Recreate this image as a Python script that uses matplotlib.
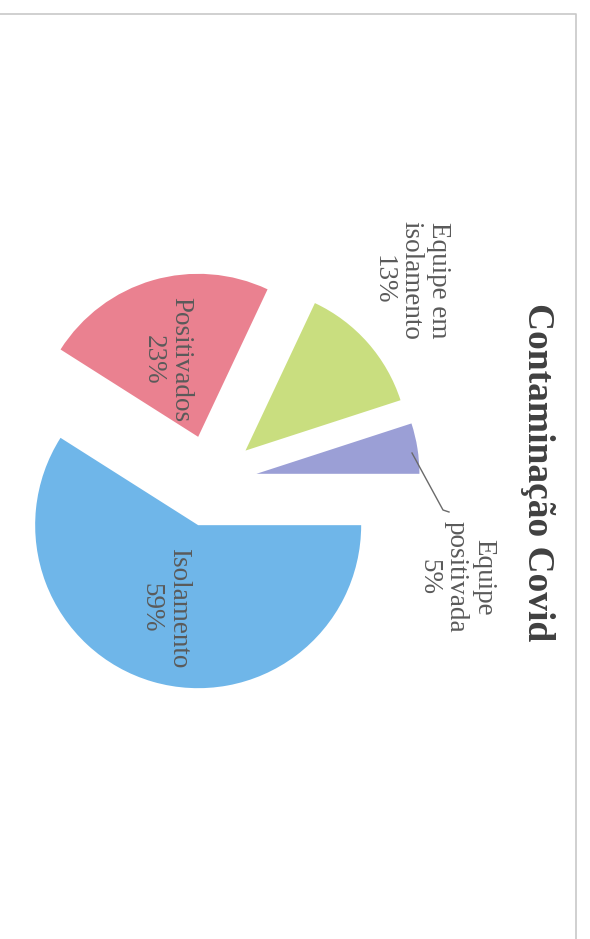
#!/usr/bin/env python3
"""Contaminação Covid pie chart (scanned page, rotated 90 degrees)."""

import matplotlib

matplotlib.use("Agg")
import matplotlib.pyplot as plt

labels = ["Isolamento", "Positivados", "Equipe em\nisolamento", "Equipe\npositivada"]
shares = [59, 23, 13, 5]
colors = ["#6fb6e9", "#ea8190", "#c9de7f", "#9b9fd6"]

W, H = 590, 939

fig = plt.figure(figsize=(W / 100, H / 100), dpi=100)
ax = fig.add_axes([0, 0, 1, 1])

# page border from the scan
ax.plot([0, 576, 576], [H - 14, H - 14, 0], color="#c8c8c8", linewidth=1.2)

wedges, _ = ax.pie(
    shares,
    colors=colors,
    startangle=0,
    counterclock=False,
    explode=[46] * len(shares),
    center=(211, H - 481),
    radius=163,
    frame=True,
    wedgeprops={"linewidth": 0},
)
ax.set_xlim(0, W)
ax.set_ylim(0, H)
ax.axis("off")

font = ["Liberation Serif", "DejaVu Serif"]
text_color = "#5a5a5a"

pct = [f"{v}%" for v in shares]
label_pos = [(165, H - 608), (167, H - 360), (411, H - 280), (456, H - 577)]
for lab, p, (x, y) in zip(labels, pct, label_pos):
    ax.text(x, y, f"{lab}\n{p}", rotation=-90, ha="center", va="center",
            multialignment="center", fontsize=19.5, color=text_color,
            family=font, linespacing=1.13)

# leader line for the small slice
ax.plot([412, 443, 449], [H - 453, H - 510, H - 512], color="#6a6a6a", linewidth=1)

ax.text(537, H - 472, "Contaminação Covid", rotation=-90, ha="center", va="center",
        fontsize=27, fontweight="bold", color="#404040", family=font)

fig.savefig("out.png", dpi=100, facecolor="white")
